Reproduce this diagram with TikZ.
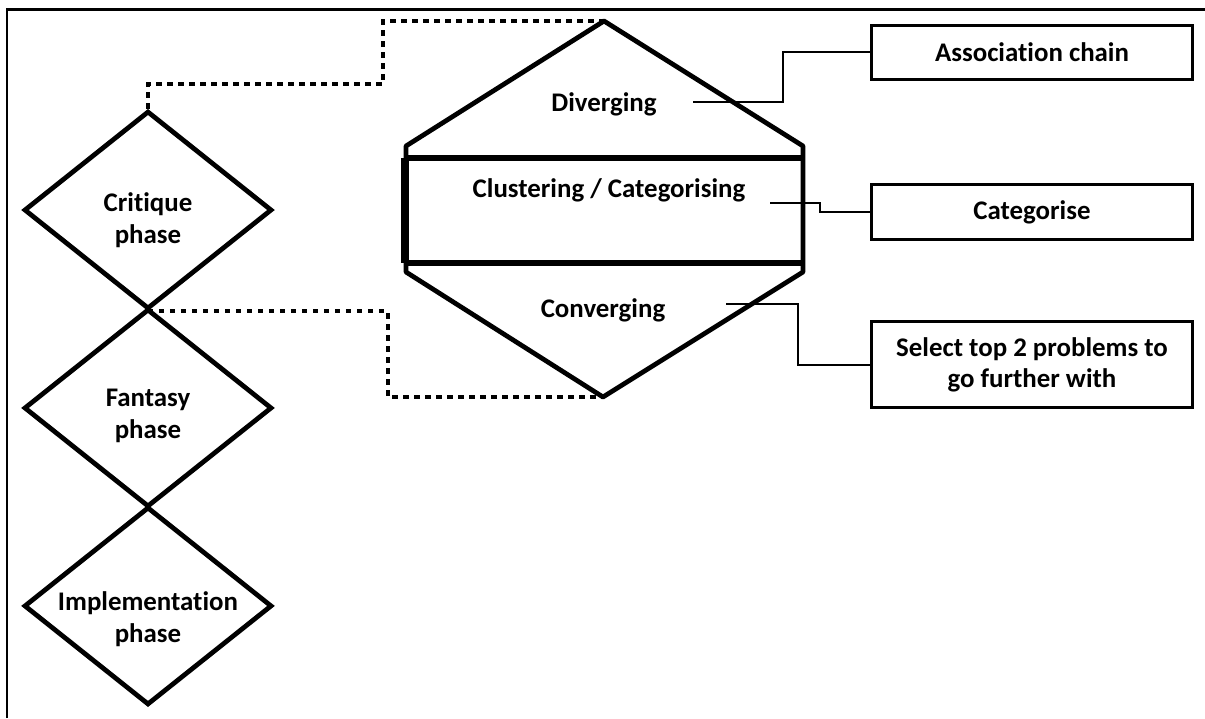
\documentclass[tikz,border=0pt]{standalone}
\usepackage{fontspec}
\setmainfont{Carlito}[Ligatures=NoCommon]
\usetikzlibrary{shapes.geometric,positioning}

\begin{document}
\begin{tikzpicture}[x=0.02cm,y=-0.02cm,on grid,
  phase/.style={draw,diamond,line width=0.095cm,minimum width=4.96cm,minimum height=3.96cm,inner sep=0pt},
  txt/.style={font=\bfseries\fontsize{15.3}{18}\selectfont,align=center,inner sep=0pt},
  tipbox/.style={draw,rectangle,line width=0.06cm,minimum width=6.44cm,align=center,font=\bfseries\fontsize{15.3}{18}\selectfont},
  callout/.style={line width=0.045cm},
  dotline/.style={line width=0.085cm,dash pattern=on 0.11cm off 0.11cm},
  hexline/.style={line width=0.095cm,line join=round}]
\useasboundingbox (0,0) rectangle (1205,718);
\draw[line width=0.06cm] (7,718) -- (7,9) -- (1205,9);

\node[phase](crit) at (148,210) {};
\node[phase](fant)[below=3.96cm of crit] {};
\node[phase](impl)[below=3.96cm of fant] {};
\node[txt](critT) at ([yshift=-0.2cm]crit.center) {Critique\\phase};
\node[txt](fantT) at ([yshift=-0.16cm]fant.center) {Fantasy\\phase};
\node[txt](implT) at ([yshift=-0.26cm]impl.center) {Implementation\\phase};

\coordinate (hexT) at (604,21);
\coordinate (hexUR) at (803,146);
\coordinate (hexLR) at (803,272);
\coordinate (hexB) at (603,397);
\coordinate (hexLL) at (406,272);
\coordinate (hexUL) at (406,146);
\coordinate (recTL) at (404.5,158);
\coordinate (recTR) at (803,158);
\coordinate (recBL) at (404.5,263);
\coordinate (recBR) at (803,263);
\draw[hexline] (hexT) -- (hexUR) -- (hexLR) -- (hexB) -- (hexLL) -- (hexUL) -- cycle;
\draw[line width=0.11cm] (recTL) -- (recTR);
\draw[line width=0.11cm] (recBL) -- (recBR);
\draw[line width=0.16cm] (recTL) -- (recBL);

\node[txt](divT) at (604,104) {Diverging};
\node[txt](cluT) at (609,190) {Clustering / Categorising};
\node[txt](conT) at (603,310) {Converging};

\node[tipbox,minimum height=1.08cm](assoc) at (1032,52) {Association chain};
\node[tipbox,minimum height=1.1cm](categ)[below=3.2cm of assoc] {Categorise};
\node[tipbox,minimum height=1.72cm](sel)[below=3.06cm of categ] {Select top 2 problems to\\go further with};

\coordinate (divtip) at (693,102);
\coordinate (clutip) at (770,203);
\coordinate (contip) at (726,304);
\draw[callout] (divtip) -- (783,102) |- (assoc.west);
\draw[callout] (clutip) -- (820,203) |- (categ.west);
\draw[callout] (contip) -- (798,304) |- (sel.west);

\draw[dotline] (crit.north) |- (383,84) |- (hexT);
\draw[dotline] (crit.south) -| (388,397) -- (hexB);
\end{tikzpicture}
\end{document}
